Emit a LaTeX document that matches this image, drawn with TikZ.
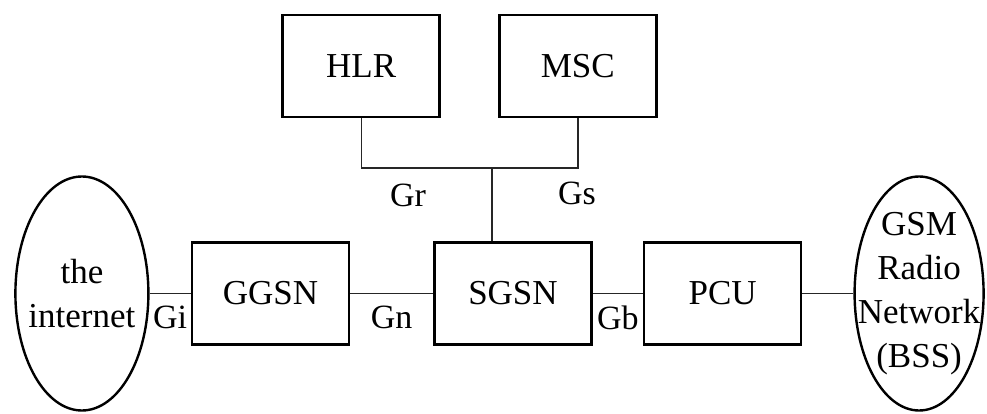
\documentclass[tikz,border=0pt]{standalone}
\usepackage{fontspec}
\setmainfont{Liberation Serif}
\usepackage{tikz}
\usetikzlibrary{shapes,positioning,calc}
\usepackage{xcolor}

\begin{document}
\begin{tikzpicture}[
    unit/.style={rectangle, draw=black, line width=2.6pt, minimum width=157pt, minimum height=102pt, font=\fontsize{35}{44}\selectfont, text centered},
    net/.style={ellipse, draw=black, line width=2.4pt, inner sep=0pt, minimum height=234pt},
    nettext/.style={align=center, font=\fontsize{35}{44}\selectfont},
    link/.style={draw=black!85, line width=1.4pt},
    iface/.style={font=\fontsize{34}{40}\selectfont, inner sep=1pt}
]
\useasboundingbox (0,0) rectangle (987pt,-414pt);

% Core nodes
\node (sgsn) [unit] at (513pt,-293.5pt) {SGSN};
\node (ggsn) [unit, left=83pt of sgsn] {GGSN};
\node (pcu) [unit, right=50pt of sgsn] {PCU};
\node (hlr) [unit, above left=123pt and 72pt of sgsn.north] {HLR};
\node (msc) [unit, right=57pt of hlr] {MSC};

% Networks
\node (internet) [net, minimum width=133pt, left=41pt of ggsn] {};
\node (internettext) [nettext] at (internet) {the\\internet};
\node (bss) [net, minimum width=129pt, right=51pt of pcu] {};
\node (bsstext) [nettext] at (bss) {GSM\\Radio\\Network\\(BSS)};

% Connections
\coordinate (tee) at ($(sgsn.north)+(-21pt,73pt)$);
\draw[link] (hlr.south) |- (tee) -| (msc.south);
\draw[link] (tee) -- (tee |- sgsn.north);
\draw[link] (internet) -- node[iface, below=11pt] {Gi} (ggsn);
\draw[link] (ggsn) -- node[iface, below=11pt] {Gn} (sgsn);
\draw[link] (sgsn) -- node[iface, below=11pt] {Gb} (pcu);
\draw[link] (pcu) -- (bss);

% Interface labels
\node (gr) [iface] at ($(tee)+(-84pt,-27pt)$) {Gr};
\node (gs) [iface] at ($(tee)+(85pt,-25pt)$) {Gs};

\end{tikzpicture}
\end{document}
